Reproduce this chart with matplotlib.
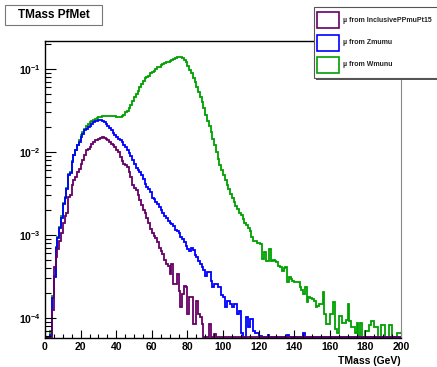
import numpy as np
import matplotlib
matplotlib.use("Agg")
import matplotlib.pyplot as plt
from matplotlib.patches import Rectangle
from matplotlib.ticker import LogLocator, MultipleLocator, FuncFormatter

plt.rcParams["font.family"] = ["Liberation Sans", "DejaVu Sans"]
plt.rcParams["mathtext.fontset"] = "custom"
plt.rcParams["mathtext.bf"] = "Liberation Sans:bold"
plt.rcParams["mathtext.rm"] = "Liberation Sans"

W, H = 437, 367

# 1 GeV bins from 0 to 200, contents (log10 of bin content, None = empty bin)
bin_edges = list(range(0, 201))

wmunu_log10 = [
    None, None, None, -4.15, -3.74, -3.49, -3.14, -3.02, -2.90, -2.77,
    -2.61, -2.54, -2.43, -2.27, -2.24, -2.11, -2.03, -1.97, -1.91, -1.86,
    -1.80, -1.76, -1.72, -1.69, -1.66, -1.64, -1.62, -1.61, -1.60, -1.59,
    -1.58, -1.58, -1.57, -1.57, -1.57, -1.56, -1.56, -1.57, -1.57, -1.57,
    -1.58, -1.58, -1.58, -1.57, -1.55, -1.52, -1.50, -1.47, -1.43, -1.39,
    -1.34, -1.30, -1.26, -1.22, -1.18, -1.14, -1.11, -1.09, -1.08, -1.05,
    -1.04, -1.02, -1.00, -0.98, -0.97, -0.95, -0.94, -0.93, -0.92, -0.91,
    -0.90, -0.89, -0.88, -0.87, -0.86, -0.86, -0.86, -0.87, -0.89, -0.92,
    -0.96, -1.01, -1.05, -1.11, -1.16, -1.22, -1.28, -1.34, -1.40, -1.47,
    -1.55, -1.62, -1.69, -1.76, -1.84, -1.92, -2.00, -2.08, -2.15, -2.22,
    -2.28, -2.34, -2.40, -2.45, -2.50, -2.55, -2.60, -2.65, -2.69, -2.73,
    -2.76, -2.81, -2.85, -2.88, -2.91, -2.95, -3.02, -3.07, -3.07, -3.09,
    -3.09, -3.11, -3.29, -3.20, -3.31, -3.31, -3.17, -3.31, -3.30, -3.31,
    -3.33, -3.37, -3.38, -3.43, -3.40, -3.39, -3.57, -3.50, -3.53, -3.55,
    -3.57, -3.57, -3.56, -3.63, -3.66, -3.71, -3.63, -3.81, -3.75, -3.76,
    -3.77, -3.80, -3.87, -3.85, -3.83, -3.83, -3.69, -3.95, -4.07, -4.07,
    -3.95, -3.95, -3.81, -4.13, -4.18, -3.97, -3.97, -4.06, -4.06, -4.02,
    -3.83, -4.04, -4.11, -4.11, -4.18, -4.06, None, -4.06, None, None,
    -4.16, -4.16, -4.08, -4.04, -4.04, -4.11, -4.11, None, None, -4.08,
    -4.08, None, None, -4.08, -4.08, None, None, None, -4.18, -4.18,
]

zmumu_log10 = [
    None, None, None, -4.20, -3.76, -3.51, -3.15, -3.03, -2.91, -2.79,
    -2.62, -2.55, -2.44, -2.28, -2.25, -2.12, -2.04, -1.98, -1.92, -1.88,
    -1.82, -1.78, -1.74, -1.72, -1.70, -1.68, -1.66, -1.64, -1.63, -1.62,
    -1.61, -1.61, -1.62, -1.64, -1.66, -1.69, -1.71, -1.74, -1.77, -1.80,
    -1.82, -1.84, -1.85, -1.88, -1.91, -1.94, -1.97, -2.01, -2.05, -2.09,
    -2.14, -2.19, -2.22, -2.24, -2.28, -2.32, -2.38, -2.42, -2.44, -2.48,
    -2.55, -2.57, -2.60, -2.63, -2.66, -2.70, -2.74, -2.77, -2.80, -2.83,
    -2.85, -2.87, -2.89, -2.94, -2.95, -2.98, -3.02, -3.05, -3.08, -3.13,
    -3.17, -3.19, -3.16, -3.18, -3.24, -3.27, -3.31, -3.35, -3.39, -3.42,
    -3.49, -3.45, -3.45, -3.55, -3.63, -3.59, -3.59, -3.63, -3.63, -3.72,
    -3.75, -3.87, -3.79, -3.79, -3.83, -3.87, -3.83, -3.83, -3.95, -3.91,
    -4.18, None, None, -3.99, -4.11, -4.01, -4.01, -4.16, -4.18, -4.18,
    -4.22, -4.22, None, None, None, -4.20, None, None, None, None,
    None, None, None, None, None, None, -4.20, None, None, None,
    None, None, None, None, None, -4.18, None, None, None, None,
] + [None] * 50

ppmu_log10 = [
    None, None, None, None, -3.90, -3.39, -3.27, -3.17, -3.07, -2.97,
    -2.85, -2.77, -2.74, -2.54, -2.52, -2.40, -2.34, -2.30, -2.24, -2.20,
    -2.14, -2.10, -2.04, -1.98, -1.96, -1.94, -1.90, -1.88, -1.86, -1.85,
    -1.84, -1.83, -1.82, -1.83, -1.84, -1.86, -1.88, -1.90, -1.92, -1.94,
    -1.97, -2.00, -2.06, -2.11, -2.14, -2.16, -2.18, -2.24, -2.30, -2.40,
    -2.43, -2.46, -2.52, -2.58, -2.64, -2.70, -2.74, -2.79, -2.86, -2.93,
    -2.98, -3.01, -3.03, -3.08, -3.15, -3.19, -3.23, -3.30, -3.35, -3.37,
    -3.47, -3.35, -3.59, -3.59, -3.47, -3.67, -3.87, -3.71, -3.61, -3.63,
    -3.95, -3.75, -3.75, -4.07, -4.07, -3.79, -3.95, -3.99, -4.07, None,
    None, None, -4.07, None, None, -4.19, None, None, None, None,
] + [None] * 100

labels = ["\u00b5 from InclusivePPmuPt15", "\u00b5 from Zmumu", "\u00b5 from Wmunu"]
colors = ["#660066", "#0000ff", "#00a000"]

YMIN, YMAX = 5.75e-5, 0.218


def contents(logs):
    return np.array([10.0 ** v if v is not None else 0.0 for v in logs])


def px(x, y):
    return x / W, 1 - y / H


fig = plt.figure(figsize=(W / 100, H / 100), dpi=100)
fig.patch.set_facecolor("white")
ax = fig.add_axes([45 / W, 1 - 338 / H, 356 / W, 297 / H])

# green first, purple on top (ROOT draw order)
for logs, col in [(wmunu_log10, colors[2]), (zmumu_log10, colors[1]), (ppmu_log10, colors[0])]:
    v = contents(logs)
    v = np.where(v > 0, v, YMIN * 1.02)
    ax.stairs(v, bin_edges, color=col, lw=1.3, baseline=None)

ax.set_yscale("log")
ax.set_xlim(0, 200)
ax.set_ylim(YMIN, YMAX)

ax.xaxis.set_major_locator(MultipleLocator(20))
ax.xaxis.set_minor_locator(MultipleLocator(5))
ax.yaxis.set_major_locator(LogLocator(base=10))
ax.yaxis.set_minor_locator(LogLocator(base=10, subs=np.arange(2, 10)))
ax.yaxis.set_major_formatter(FuncFormatter(
    lambda v, p: r"$\mathbf{10^{%d}}$" % int(round(np.log10(v)))))
ax.tick_params(which="both", direction="in", top=False, right=False, width=0.8)
ax.tick_params(axis="x", which="major", length=6, pad=3)
ax.tick_params(axis="x", which="minor", length=3)
ax.tick_params(axis="y", which="major", length=8, pad=3)
ax.tick_params(axis="y", which="minor", length=4.5)
for lab in ax.get_xticklabels() + ax.get_yticklabels():
    lab.set_fontweight("bold")
    lab.set_fontsize(7.5)
for s in ["top", "left", "bottom"]:
    ax.spines[s].set_linewidth(1.0)
ax.spines["right"].set_color("#888888")

ax.set_xlabel("TMass (GeV)", loc="right", fontsize=7.5, fontweight="bold", labelpad=3)

# title box
fig.patches.append(Rectangle(px(6, 26), 97 / W, 20 / H, transform=fig.transFigure,
                             facecolor="#777777", edgecolor="none", zorder=4))
fig.patches.append(Rectangle(px(5, 25), 97 / W, 20 / H, transform=fig.transFigure,
                             facecolor="white", edgecolor="#777777", lw=0.8, zorder=5))
fig.text(*px(53.5, 15.5), "TMass PfMet", ha="center", va="center",
         fontsize=8.5, fontweight="bold", zorder=6)

# legend box
fig.patches.append(Rectangle(px(316, 80), 130 / W, 72 / H, transform=fig.transFigure,
                             facecolor="#555555", edgecolor="none", zorder=4))
fig.patches.append(Rectangle(px(314, 78), 130 / W, 71 / H, transform=fig.transFigure,
                             facecolor="white", edgecolor="#555555", lw=0.8, zorder=5))
for i, (lab, col) in enumerate(zip(labels, colors)):
    yc = 20 + 22.5 * i
    fig.patches.append(Rectangle(px(317, yc + 8), 22 / W, 16 / H, transform=fig.transFigure,
                                 facecolor="white", edgecolor=col, lw=1.2, zorder=6))
    fig.text(*px(343, yc), lab, ha="left", va="center", fontsize=5,
             fontweight="bold", color="#222222", zorder=6)

fig.savefig("out.png", dpi=100, facecolor="white")
